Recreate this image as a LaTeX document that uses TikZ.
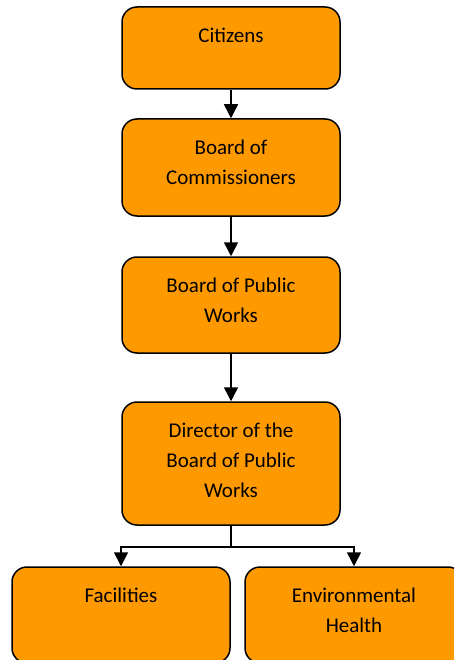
\documentclass[tikz,border=0pt]{standalone}
\usepackage{fontspec}
\setmainfont{Carlito}
\usetikzlibrary{arrows.meta}
\definecolor{boxorange}{RGB}{255,153,0}
\newcommand{\lnstrut}{\rule{0pt}{16pt}}
\tikzset{
  orgbox/.style={draw=black, line width=1.5pt, fill=boxorange, rounded corners=15pt,
    minimum width=218pt, inner sep=0pt},
  orgtext/.style={anchor=north, inner sep=0pt, align=center,
    font=\fontsize{21}{30}\selectfont},
  conn/.style={draw=black, line width=1.5pt},
  arr/.style={conn, -{Triangle[width=14pt,length=14pt]}}
}
\begin{document}
\begin{tikzpicture}[x=1pt,y=1pt]
\useasboundingbox (0,0) rectangle (454,-660);
\clip (0,0) rectangle (454,-660);
% boxes
\node[orgbox, minimum height=82pt] (cit) at (231,-48) {};
\node[orgbox, minimum height=97pt] (com) at (231,-167.5) {};
\node[orgbox, minimum height=96pt] (bpw) at (231,-305) {};
\node[orgbox, minimum height=123pt] (dir) at (231,-463.5) {};
\node[orgbox, minimum height=96pt] (fac) at (121,-615) {};
\node[orgbox, minimum height=96pt] (env) at (354,-615) {};
% texts
\node[orgtext] (citT) at ([yshift=-20pt]cit.north) {\lnstrut Citizens};
\node[orgtext] (comT) at ([yshift=-20pt]com.north) {\lnstrut Board of\\Commissioners};
\node[orgtext] (bpwT) at ([yshift=-20pt]bpw.north) {\lnstrut Board of Public\\Works};
\node[orgtext] (dirT) at ([yshift=-20pt]dir.north) {\lnstrut Director of the\\Board of Public\\Works};
\node[orgtext] (facT) at ([yshift=-20pt]fac.north) {\lnstrut Facilities};
\node[orgtext] (envT) at ([yshift=-20pt]env.north) {\lnstrut Environmental\\Health};
% connectors
\draw[arr] (cit.south) -- (com.north);
\draw[arr] (com.south) -- (bpw.north);
\draw[arr] (bpw.south) -- (dir.north);
\coordinate (split) at (231,-547);
\draw[conn] (dir.south) -- (split);
\draw[arr] (split) -| (fac.north);
\draw[arr] (split) -| (env.north);
\end{tikzpicture}
\end{document}
